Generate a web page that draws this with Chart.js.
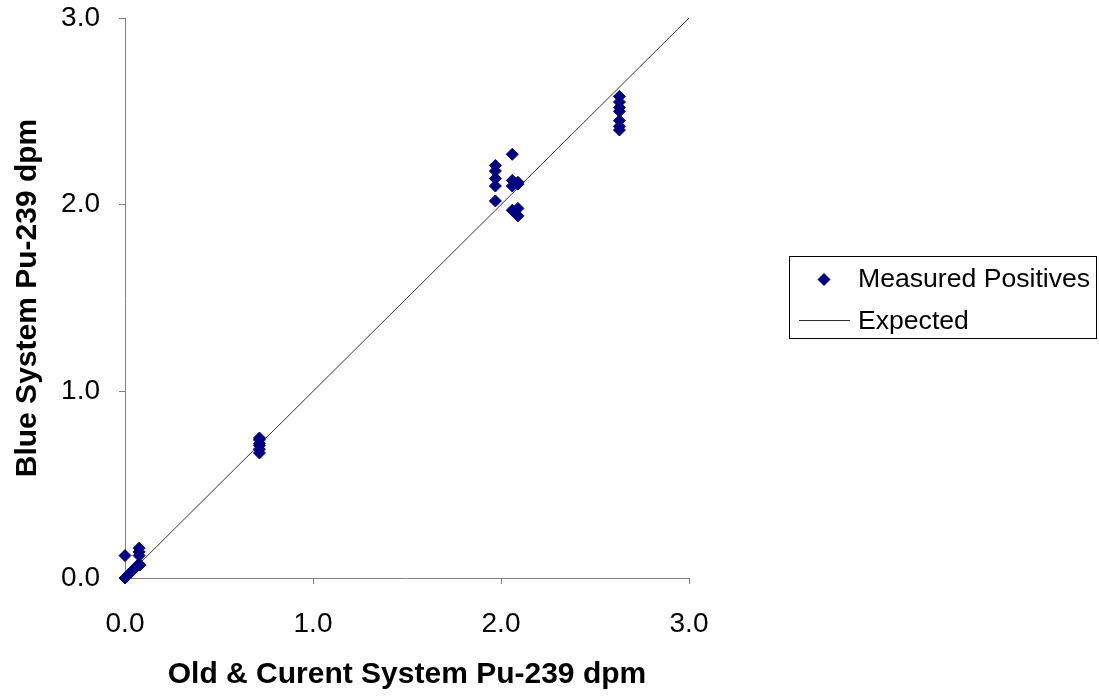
<!DOCTYPE html>
<html>
<head>
<meta charset="utf-8">
<script src="https://cdn.jsdelivr.net/npm/chart.js@4/dist/chart.umd.min.js"></script>
<style>
	html, body { margin: 0; padding: 0; background: #fff; }
	canvas { display: block; }
</style>
</head>
<body>
<canvas id="myChart" width="1099" height="698"></canvas>
<script>
// measured positives
const oldSystem = [
	0.0, 0.01, 0.02, 0.03, 0.04, 0.05, 0.06, 0.07, 0.08, 0.0, 0.075, 0.075, 0.075,
	0.715, 0.715, 0.715, 0.715, 0.715, 0.715,
	1.97, 1.97, 1.97, 1.97, 1.97,
	2.06, 2.06, 2.09, 2.06, 2.09, 2.06, 2.09, 2.09,
	2.63, 2.63, 2.63, 2.63, 2.63, 2.63, 2.63,
];
const blueSystem = [
	0.0, 0.01, 0.02, 0.03, 0.04, 0.05, 0.06, 0.07, 0.07, 0.12, 0.16, 0.14, 0.12,
	0.67, 0.69, 0.71, 0.72, 0.74, 0.75,
	2.21, 2.18, 2.14, 2.1, 2.02,
	2.27, 2.13, 2.12, 2.1, 2.11, 1.97, 1.98, 1.94,
	2.58, 2.55, 2.52, 2.5, 2.45, 2.42, 2.4,
];
const expectedX = [0, 3];
const expectedY = [0, 3];
const tickValues = [0, 1, 2, 3];

const fontFamily = '"Liberation Sans", Arial, sans-serif';
const pointColor = '#000080';
const lineColor = '#333333';
const axisColor = '#808080';

const measured = oldSystem.map((x, i) => ({ x: x, y: blueSystem[i] }));
const expected = expectedX.map((x, i) => ({ x: x, y: expectedY[i] }));

function axisOptions(titleText, titlePadding, tickPadding) {
	return {
		type: 'linear',
		min: 0,
		max: 3,
		afterBuildTicks: scale => {
			scale.ticks = tickValues.map(v => ({ value: v }));
		},
		ticks: {
			callback: v => Number(v).toFixed(1),
			color: '#000',
			padding: tickPadding,
			maxRotation: 0,
			font: { family: fontFamily, size: 28 },
		},
		grid: {
			drawOnChartArea: false,
			drawTicks: true,
			tickLength: 6,
			color: axisColor,
		},
		border: { color: axisColor, width: 1 },
		title: {
			display: true,
			text: titleText,
			color: '#000',
			padding: titlePadding,
			font: { family: fontFamily, size: 30, weight: 'bold' },
		},
	};
}

// drop the extra room chart.js keeps for the end tick labels
function noLabelPadding(scale) {
	scale.paddingTop = 0;
	scale.paddingBottom = 0;
	scale.paddingLeft = 0;
	scale.paddingRight = 0;
}

const legendPlugin = {
	id: 'boxLegend',
	afterDraw: chart => {
		const ctx = chart.ctx;
		ctx.save();
		ctx.strokeStyle = '#000';
		ctx.lineWidth = 1;
		ctx.strokeRect(789.5, 256.5, 307, 82);

		// diamond marker
		ctx.fillStyle = pointColor;
		ctx.beginPath();
		ctx.moveTo(824, 273);
		ctx.lineTo(830.5, 279.5);
		ctx.lineTo(824, 286);
		ctx.lineTo(817.5, 279.5);
		ctx.closePath();
		ctx.fill();

		// line marker
		ctx.strokeStyle = lineColor;
		ctx.beginPath();
		ctx.moveTo(799, 320.5);
		ctx.lineTo(850, 320.5);
		ctx.stroke();

		ctx.fillStyle = '#000';
		ctx.font = '26.6px ' + fontFamily;
		ctx.textBaseline = 'middle';
		ctx.textAlign = 'left';
		ctx.fillText('Measured Positives', 858, 280);
		ctx.fillText('Expected', 858, 322);
		ctx.restore();
	},
};

const ctx = document.getElementById('myChart');
const chart = new Chart(ctx, {
	type: 'scatter',
	data: {
		datasets: [
			{
				label: 'Measured Positives',
				data: measured,
				pointStyle: 'rectRot',
				pointRadius: 6,
				pointBorderWidth: 1,
				backgroundColor: pointColor,
				borderColor: pointColor,
				clip: false,
			},
			{
				label: 'Expected',
				data: expected,
				showLine: true,
				borderColor: lineColor,
				borderWidth: 1,
				pointRadius: 0,
				clip: false,
			},
		],
	},
	options: {
		responsive: false,
		animation: false,
		layout: {
			padding: { top: 18, right: 410, bottom: 0, left: 0 },
		},
		plugins: {
			legend: { display: false },
			tooltip: { enabled: false },
		},
		scales: {
			x: Object.assign(axisOptions('Old & Curent System Pu-239 dpm', { top: 0, bottom: 5 }, 23), {
				afterFit: scale => {
					scale.height = 120;
					noLabelPadding(scale);
				},
			}),
			y: Object.assign(axisOptions('Blue System Pu-239 dpm', { top: 10, bottom: 0 }, 19), {
				afterFit: scale => {
					scale.width = 125;
					noLabelPadding(scale);
				},
			}),
		},
	},
	plugins: [legendPlugin],
});
</script>
</body>
</html>
